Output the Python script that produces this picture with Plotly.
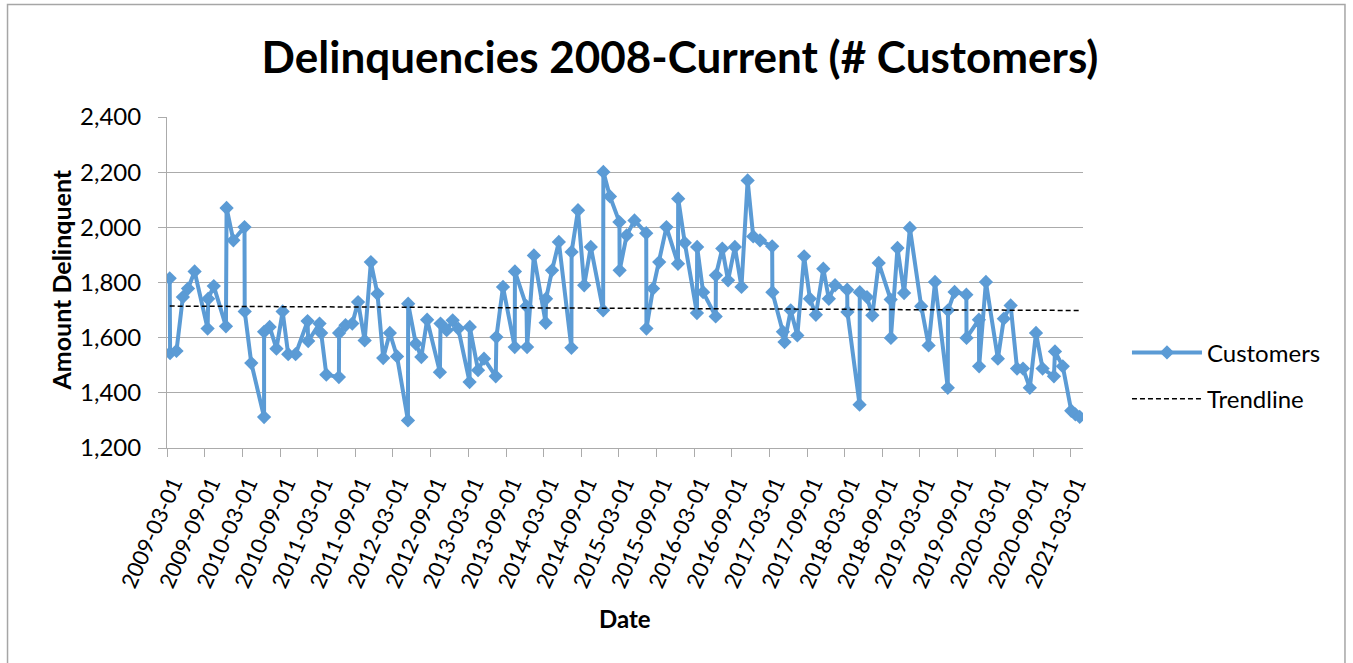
import numpy as np
import pandas as pd
import plotly.graph_objects as go

# ---- data ----
dates = [
    "2009-03-14", "2009-03-16", "2009-04-16", "2009-05-17", "2009-06-11", "2009-07-13",
    "2009-09-14", "2009-09-17", "2009-10-14", "2009-12-12", "2009-12-15", "2010-01-17",
    "2010-03-12", "2010-03-13", "2010-04-14", "2010-06-15", "2010-06-15", "2010-07-12",
    "2010-08-14", "2010-09-13", "2010-10-10", "2010-11-15", "2011-01-12", "2011-01-15",
    "2011-03-11", "2011-03-19", "2011-04-13", "2011-06-13", "2011-06-14", "2011-07-15",
    "2011-08-17", "2011-09-14", "2011-10-16", "2011-11-15", "2011-12-17", "2012-01-14",
    "2012-02-15", "2012-03-21", "2012-05-13", "2012-05-14", "2012-06-20", "2012-07-17",
    "2012-08-14", "2012-10-15", "2012-10-18", "2012-11-17", "2012-12-16", "2013-01-12",
    "2013-03-08", "2013-03-09", "2013-04-18", "2013-05-17", "2013-07-13", "2013-07-16",
    "2013-08-17", "2013-10-13", "2013-10-14", "2013-12-09", "2013-12-12", "2014-01-14",
    "2014-03-12", "2014-03-14", "2014-04-12", "2014-05-15", "2014-07-15", "2014-07-16",
    "2014-08-16", "2014-09-15", "2014-10-17", "2014-12-16", "2014-12-17", "2015-01-18",
    "2015-03-05", "2015-03-06", "2015-04-09", "2015-05-17", "2015-07-13", "2015-07-14",
    "2015-08-15", "2015-09-14", "2015-10-19", "2015-12-14", "2015-12-15", "2016-01-16",
    "2016-03-15", "2016-03-16", "2016-04-14", "2016-06-14", "2016-06-15", "2016-07-16",
    "2016-08-13", "2016-09-15", "2016-10-17", "2016-11-16", "2016-12-13", "2017-01-15",
    "2017-03-15", "2017-03-16", "2017-05-06", "2017-05-14", "2017-06-13", "2017-07-15",
    "2017-08-17", "2017-09-14", "2017-10-13", "2017-11-18", "2017-12-15", "2018-01-14",
    "2018-03-14", "2018-03-15", "2018-05-13", "2018-05-14", "2018-06-18", "2018-07-14",
    "2018-08-14", "2018-10-11", "2018-10-12", "2018-11-13", "2018-12-15", "2019-01-12",
    "2019-03-08", "2019-04-13", "2019-05-14", "2019-07-15", "2019-07-16", "2019-08-17",
    "2019-10-13", "2019-10-14", "2019-12-13", "2019-12-14", "2020-01-16", "2020-03-14",
    "2020-04-12", "2020-05-15", "2020-06-15", "2020-07-14", "2020-08-16", "2020-09-15",
    "2020-10-17", "2020-12-11", "2020-12-16", "2021-01-23", "2021-03-05", "2021-03-25",
    "2021-04-15",
]

customers = [
    1815, 1544, 1552, 1747, 1778, 1840,
    1633, 1741, 1787, 1641, 2070, 1953,
    2001, 1695, 1508, 1312, 1621, 1639,
    1560, 1695, 1540, 1540, 1660, 1588,
    1651, 1617, 1466, 1457, 1617, 1645,
    1651, 1729, 1590, 1874, 1759, 1526,
    1617, 1532, 1300, 1723, 1578, 1530,
    1665, 1475, 1651, 1627, 1663, 1633,
    1439, 1639, 1482, 1524, 1460, 1602,
    1784, 1566, 1840, 1714, 1566, 1898,
    1654, 1741, 1844, 1947, 1563, 1911,
    2062, 1790, 1929, 1699, 2201, 2112,
    2019, 1844, 1971, 2025, 1979, 1633,
    1778, 1874, 2001, 1868, 2104, 1944,
    1689, 1929, 1765, 1677, 1826, 1923,
    1808, 1929, 1784, 2170, 1967, 1953,
    1931, 1765, 1621, 1584, 1699, 1608,
    1895, 1741, 1683, 1850, 1741, 1790,
    1774, 1693, 1357, 1765, 1747, 1681,
    1871, 1738, 1599, 1925, 1762, 1998,
    1714, 1572, 1802, 1418, 1699, 1766,
    1756, 1599, 1665, 1496, 1802, 1524,
    1669, 1717, 1488, 1488, 1418, 1617,
    1488, 1460, 1550, 1496, 1335, 1322,
    1313,
]

tick_dates = [
    "2009-03-01", "2009-09-01", "2010-03-01", "2010-09-01", "2011-03-01", "2011-09-01",
    "2012-03-01", "2012-09-01", "2013-03-01", "2013-09-01", "2014-03-01", "2014-09-01",
    "2015-03-01", "2015-09-01", "2016-03-01", "2016-09-01", "2017-03-01", "2017-09-01",
    "2018-03-01", "2018-09-01", "2019-03-01", "2019-09-01", "2020-03-01", "2020-09-01",
    "2021-03-01",
]
y_ticks = [1200, 1400, 1600, 1800, 2000, 2200, 2400]

# ---- linear trendline (least squares, as in the spreadsheet) ----
dt = pd.to_datetime(dates)
xnum = (dt - dt[0]).days.to_numpy(dtype=float)
slope, intercept = np.polyfit(xnum, np.array(customers, dtype=float), 1)
trend_x = [dates[0], dates[-1]]
trend_y = [intercept, intercept + slope * xnum[-1]]

FONT = "Lato"
BLUE = "#5B9BD5"
GRID = "#ABABAB"

fig = go.Figure()
fig.add_trace(go.Scatter(
    x=dates, y=customers, mode="lines+markers", name="Customers",
    legendgroup="a",
    line=dict(color=BLUE, width=4),
    marker=dict(symbol="diamond", size=11, color=BLUE),
))
fig.add_trace(go.Scatter(
    x=trend_x, y=trend_y, mode="lines", name="Trendline",
    legendgroup="b",
    line=dict(color="black", width=1.5, dash="5px,3px"),
))

fig.update_layout(
    width=1353, height=663,
    paper_bgcolor="white", plot_bgcolor="white",
    margin=dict(l=167, r=270, t=117, b=215, autoexpand=False),
    font=dict(family=FONT, size=24, color="black"),
    title=dict(
        text="<b>Delinquencies 2008-Current (# Customers)</b>",
        x=0.5026, y=0.9125, xref="container", yref="container",
        xanchor="center", yanchor="middle",
        font=dict(family=FONT, size=44, color="black"),
    ),
    showlegend=True,
    legend=dict(
        x=1.048, y=0.218, xanchor="left", yanchor="middle",
        font=dict(family=FONT, size=24, color="black"),
        tracegroupgap=12, itemwidth=70,
        bgcolor="rgba(0,0,0,0)",
    ),
    xaxis=dict(
        type="date",
        range=["2009-03-01", "2021-05-01"],
        tickvals=tick_dates, ticktext=tick_dates,
        tickangle=-66,
        tickfont=dict(family=FONT, size=22),
        ticklabelstandoff=5, ticklabelshift=6,
        showgrid=False, zeroline=False,
        showline=True, linecolor=GRID, linewidth=1,
        ticks="outside", ticklen=8, tickcolor=GRID, tickwidth=1,
        automargin=False,
    ),
    yaxis=dict(
        range=[1200, 2400],
        tickvals=y_ticks, tickformat=",",
        tickfont=dict(family=FONT, size=24),
        ticklabelstandoff=12,
        showgrid=True, gridcolor=GRID, gridwidth=1,
        zeroline=False,
        showline=True, linecolor=GRID, linewidth=1,
        ticks="outside", ticklen=8, tickcolor=GRID, tickwidth=1,
        automargin=False,
    ),
    annotations=[
        dict(text="<b>Date</b>", xref="paper", yref="paper", x=0.5, y=-0.514,
             xanchor="center", yanchor="middle", showarrow=False,
             font=dict(family=FONT, size=24, color="black")),
        dict(text="<b>Amount Delinquent</b>", xref="paper", yref="paper", x=-0.116, y=0.508,
             xanchor="center", yanchor="middle", showarrow=False, textangle=-90,
             font=dict(family=FONT, size=25, color="black")),
    ],
    shapes=[
        dict(type="rect", xref="paper", yref="paper",
             x0=-0.1741, x1=1.286, y0=-0.66, y1=1.34,
             line=dict(color="#A6A6A6", width=1.5), fillcolor="rgba(0,0,0,0)", layer="below"),
    ],
)

fig.write_html("out.html", config={"displayModeBar": False},
               post_script="document.body.style.margin='0px';")
